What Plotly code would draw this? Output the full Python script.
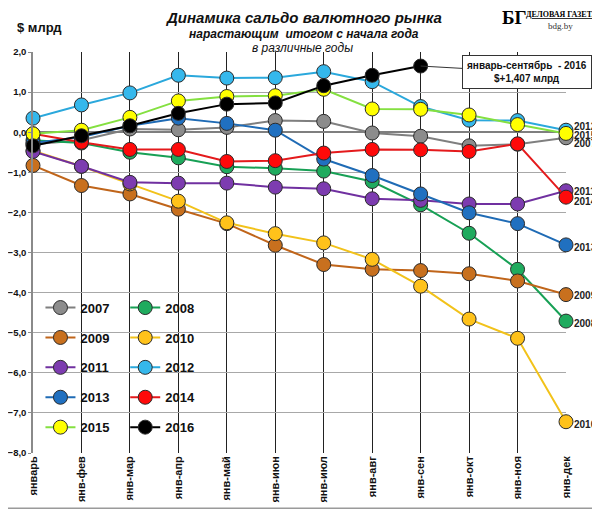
import plotly.graph_objects as go

months = ["январь", "янв-фев", "янв-мар", "янв-апр", "янв-май", "янв-июн",
          "янв-июл", "янв-авг", "янв-сен", "янв-окт", "янв-ноя", "янв-дек"]

y2007 = [-0.30, -0.20, 0.08, 0.06, 0.12, 0.29, 0.27, -0.02, -0.10, -0.34, -0.30, -0.14]
y2008 = [-0.20, -0.27, -0.50, -0.64, -0.86, -0.90, -0.97, -1.23, -1.81, -2.52, -3.42, -4.71]
y2009 = [-0.83, -1.33, -1.54, -1.92, -2.28, -2.82, -3.30, -3.42, -3.45, -3.53, -3.71, -4.05]
y2010 = [-0.46, -0.85, -1.29, -1.72, -2.26, -2.53, -2.76, -3.17, -3.84, -4.66, -5.14, -7.22]
y2011 = [-0.48, -0.85, -1.25, -1.27, -1.27, -1.37, -1.41, -1.66, -1.70, -1.79, -1.79, -1.46]
y2012 = [0.35, 0.68, 0.98, 1.42, 1.35, 1.36, 1.51, 1.26, 0.64, 0.30, 0.29, 0.05]
y2013 = [-0.27, -0.12, 0.16, 0.35, 0.22, 0.05, -0.67, -1.08, -1.54, -2.01, -2.28, -2.81]
y2014 = [-0.04, -0.25, -0.43, -0.43, -0.73, -0.71, -0.52, -0.43, -0.44, -0.48, -0.29, -1.62]
y2015 = [-0.04, 0.05, 0.37, 0.78, 0.89, 0.91, 1.07, 0.58, 0.57, 0.43, 0.19, -0.03]
y2016 = [-0.34, -0.09, 0.16, 0.47, 0.70, 0.73, 1.16, 1.42, 1.65]

series = [
    ("2007", y2007, "#7f7f7f", "#8c8c8c", "legend"),
    ("2008", y2008, "#17a055", "#1fab5e", "legend2"),
    ("2009", y2009, "#c0651a", "#c8701e", "legend"),
    ("2010", y2010, "#f2c21a", "#ffc21a", "legend2"),
    ("2011", y2011, "#7030a0", "#7d3cb0", "legend"),
    ("2013", y2013, "#1f6bb5", "#2070c0", "legend"),
    ("2012", y2012, "#2aa8dc", "#35b8ec", "legend2"),
    ("2014", y2014, "#e41a1c", "#ff0a0a", "legend2"),
    ("2015", y2015, "#84e040", "#ffff00", "legend"),
    ("2016", y2016, "#000000", "#000000", "legend2"),
]

# right-side year labels and their heights on the value axis
end_labels = [("2012", 0.14), ("2015", -0.07), ("2007", -0.29), ("2011", -1.48),
              ("2014", -1.74), ("2013", -2.87), ("2009", -4.08), ("2008", -4.76),
              ("2010", -7.28)]

fig = go.Figure()

for name, ys, lc, mc, lg in series:
    fig.add_trace(go.Scatter(
        x=months[:len(ys)], y=ys, name=name, mode="lines+markers",
        line=dict(color=lc, width=2),
        marker=dict(color=mc, size=14, line=dict(color="#2b2b2b", width=1)),
        cliponaxis=False, legend=lg, legendgroup=name,
        legendrank=int(name),
    ))

for txt, yv in end_labels:
    fig.add_annotation(x=months[-1], y=yv, text=txt, showarrow=False,
                       xanchor="left", yanchor="middle", xshift=6,
                       font=dict(family="Liberation Sans", size=10, color="#222222", weight="bold"))

# callout for September 2016
fig.add_annotation(
    x="янв-сен", y=1.65, xref="x", yref="y",
    text="январь-сентябрь  - 2016<br>$+1,407 млрд",
    showarrow=True, arrowhead=0, arrowwidth=1, arrowcolor="#333333",
    ax=106, ay=6, xanchor="center", yanchor="middle",
    bgcolor="white", bordercolor="#333333", borderwidth=1, borderpad=4,
    font=dict(family="Liberation Sans", size=10, color="#111111", weight="bold"),
)

title_font = dict(family="Liberation Sans", color="#111111", style="italic")
fig.add_annotation(xref="paper", yref="paper", x=0.508, y=1.087, showarrow=False,
                   yanchor="middle", text="Динамика сальдо валютного рынка",
                   font=dict(title_font, size=15, weight="bold"))
fig.add_annotation(xref="paper", yref="paper", x=0.508, y=1.045, showarrow=False,
                   yanchor="middle", text="нарастающим  итогом с начала года",
                   font=dict(title_font, size=12, weight="bold"))
fig.add_annotation(xref="paper", yref="paper", x=0.506, y=1.011, showarrow=False,
                   yanchor="middle", text="в различные годы",
                   font=dict(title_font, size=12))
fig.add_annotation(xref="paper", yref="paper", x=-0.034, y=1.062, showarrow=False,
                   xanchor="left", yanchor="middle", text="$ млрд",
                   font=dict(family="Liberation Sans", size=13, color="#111111", weight="bold"))
fig.add_annotation(xref="paper", yref="paper", x=0.876, y=1.085, showarrow=False,
                   xanchor="left", yanchor="middle", text="БГ",
                   font=dict(family="Liberation Serif", size=19, color="#000000", weight="bold"))
fig.add_annotation(xref="paper", yref="paper", x=0.921, y=1.094, showarrow=False,
                   xanchor="left", yanchor="middle", text="<u>ДЕЛОВАЯ ГАЗЕТА</u>",
                   font=dict(family="Liberation Serif", size=8, color="#000000", weight="bold"))
fig.add_annotation(xref="paper", yref="paper", x=0.99, y=1.066, showarrow=False,
                   xanchor="center", yanchor="middle", text="bdg.by",
                   font=dict(family="Liberation Serif", size=9, color="#333333"))

# outer frame (the page body is offset by 8 px, so only right/bottom edges fall in view)
fig.add_shape(type="rect", xref="paper", yref="paper", x0=-0.075, x1=1.06, y0=-0.138, y1=1.15,
              line=dict(color="#9a9a9a", width=1.5), layer="below")

fig.update_xaxes(
    type="category", range=[0, 11], showgrid=True, gridcolor="#222222", gridwidth=1,
    showline=False, tickangle=-90, ticks="", automargin=False,
    tickfont=dict(family="Liberation Sans", size=11, color="#111111", weight="bold"),
)
fig.update_yaxes(
    range=[-8, 2], dtick=1, tickformat=".1f", showgrid=True, gridcolor="#a8a8a8",
    gridwidth=1, zeroline=True, zerolinecolor="#7f7f7f", zerolinewidth=2,
    showline=True, linecolor="#8a8a8a", linewidth=1.5, ticks="outside",
    ticklen=3, tickcolor="#8a8a8a", automargin=False,
    tickfont=dict(family="Liberation Sans", size=9.5, color="#111111", weight="bold"),
)

legend_style = dict(
    bgcolor="rgba(0,0,0,0)", borderwidth=0, tracegroupgap=10, itemwidth=30,
    font=dict(family="Liberation Sans", size=13, color="#111111", weight="bold"),
    yanchor="top", y=0.40, itemclick=False,
)
fig.update_layout(
    width=592, height=502,
    margin=dict(l=25, r=34, t=44, b=57),
    plot_bgcolor="white", paper_bgcolor="white",
    separators=", ",
    showlegend=True,
    legend=dict(legend_style, x=0.014),
    legend2=dict(legend_style, x=0.173),
)

fig.write_html("out.html")
